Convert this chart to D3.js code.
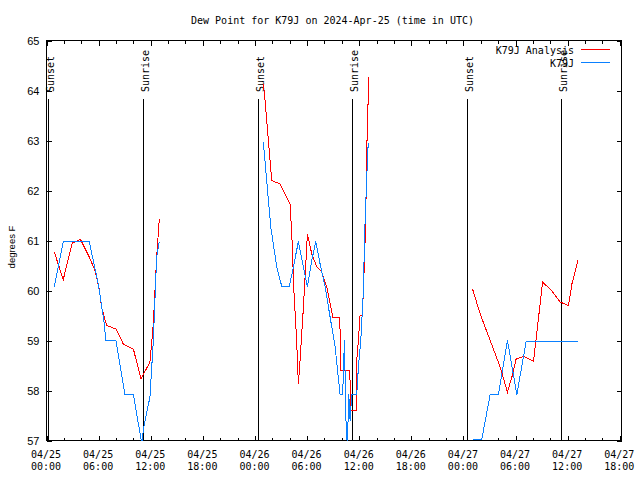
<!DOCTYPE html>
<html><head><meta charset="utf-8">
<script src="https://cdn.jsdelivr.net/npm/d3@7"></script>
<style>
body{margin:0;background:#fff;}
svg{display:block;}
</style></head>
<body>
<svg id="chart" width="640" height="480"></svg>
<script>
// ---- data (hours after 2024-04-25 00:00 UTC) ----
const titleText = "Dew Point for K79J on 2024-Apr-25 (time in UTC)";
const yLabelText = "degrees F";
const yTicks = [57, 58, 59, 60, 61, 62, 63, 64, 65];
const seriesNames = ["K79J Analysis", "K79J"];
const sunsetHours = [0.23, 24.41, 48.47];
const sunriseHours = [11.17, 35.23, 59.29];

// null = gap between days
const redHours = [0.89,1.93,2.96,3.92,4.92,5.58,6.08,6.34,6.92,8.0,8.84,10.0,10.88,11.91,12.3,12.68,12.99,
  null,
  24.97,25.16,25.55,25.93,26.89,27.47,28.04,28.24,28.5,28.8,29.0,29.19,29.58,30.04,30.54,31.12,31.69,32.27,32.96,33.78,33.84,34.93,34.99,35.64,35.72,35.91,36.1,36.35,36.49,36.68,36.8,36.87,37.03,37.06,
  null,
  49.05,49.93,51.08,52.23,53.07,53.58,54.07,54.92,56.07,56.53,57.11,58.19,59.14,60.1,60.49,61.18];
const redValues = [60.77,60.22,60.95,61.02,60.67,60.4,60.03,59.67,59.3,59.23,58.93,58.83,58.23,58.57,59.33,60.67,61.43,
  null,
  64.13,63.8,63.0,62.2,62.13,61.93,61.73,61.13,59.93,59.0,58.13,58.6,59.67,61.13,60.73,60.47,60.37,60.07,59.47,59.47,58.4,58.4,57.6,57.6,58.6,59.0,59.5,59.5,60.0,61.0,61.93,62.8,63.8,64.27,
  null,
  60.03,59.53,59.0,58.47,57.97,58.27,58.63,58.68,58.59,59.27,60.17,59.99,59.77,59.7,60.13,60.6];

const blueHours = [0.89,1.93,4.92,5.96,6.6,6.84,8.0,9.03,10.0,10.96,11.2,11.91,12.3,12.68,12.99,
  null,
  24.97,25.35,25.82,26.51,27.09,27.96,28.42,29.0,29.58,30.04,30.54,31.0,31.5,32.07,32.65,33.23,33.8,34.1,34.3,34.49,34.64,34.8,34.95,35.15,35.72,35.91,36.18,36.49,36.6,36.8,36.99,37.06,
  null,
  49.05,50.12,51.08,52.04,53.07,54.15,55.23,61.18];
const blueValues = [60.08,60.98,60.98,60.13,59.4,59.0,59.0,57.92,57.92,56.95,57.27,57.87,59.0,60.67,60.98,
  null,
  62.96,62.2,61.27,60.47,60.08,60.08,60.47,60.98,60.47,60.08,60.6,60.98,60.53,60.08,59.47,58.87,57.92,57.92,59.0,57.33,56.9,57.92,57.4,57.92,57.92,58.47,59.0,60.0,60.98,61.93,62.8,62.96,
  null,
  57.03,57.03,57.92,57.92,59.0,57.92,58.99,58.99];

// ---- drawing ----
const start = Date.UTC(2024, 3, 25, 0, 0);
const toDate = h => new Date(start + h * 3600e3);
const svg = d3.select("#chart");
const L = 46.5, R = 621.5, T = 40.5, B = 440.5;
const x = d3.scaleUtc().domain([toDate(0), toDate(66.2)]).range([L, R]);
const y = d3.scaleLinear().domain([57, 65]).range([B, T]);
const mono = "'DejaVu Sans Mono', monospace";
const sans = "'Liberation Sans', Arial, sans-serif";
const snap = v => Math.floor(v) + 0.5;

svg.append("rect").attr("width", 640).attr("height", 480).attr("fill", "#fff");

// title
svg.append("text").attr("x", 332.5).attr("y", 24).attr("text-anchor", "middle")
  .attr("font-family", mono).attr("font-size", 10).text(titleText);

// y label
svg.append("text").attr("transform", "translate(15,247) rotate(-90)")
  .attr("text-anchor", "middle").attr("font-family", sans).attr("font-size", 9.5).text(yLabelText);

// clip
svg.append("clipPath").attr("id", "clip").append("rect")
  .attr("x", L).attr("y", T).attr("width", R - L).attr("height", B - T + 0.5);

// axes
const majorT = d3.utcHour.every(6).range(toDate(0), toDate(66.3));
const minorT = d3.utcHour.every(2).range(toDate(0), toDate(66.3));
function styleAxis(g) {
  g.select(".domain").remove();
  g.selectAll(".tick line").attr("stroke", "#000").attr("shape-rendering", "crispEdges");
}
const gMinB = svg.append("g").attr("transform", `translate(0,${B})`)
  .call(d3.axisBottom(x).tickValues(minorT).tickSize(-3).tickFormat(""));
styleAxis(gMinB);
const gMinT = svg.append("g").attr("transform", `translate(0,${T})`)
  .call(d3.axisTop(x).tickValues(minorT).tickSize(-3).tickFormat(""));
styleAxis(gMinT);
const gMajT = svg.append("g").attr("transform", `translate(0,${T})`)
  .call(d3.axisTop(x).tickValues(majorT).tickSize(-5).tickFormat(""));
styleAxis(gMajT);
const gMajB = svg.append("g").attr("transform", `translate(0,${B})`)
  .call(d3.axisBottom(x).tickValues(majorT).tickSize(-5));
styleAxis(gMajB);
const fD = d3.utcFormat("%m/%d"), fH = d3.utcFormat("%H:%M");
gMajB.selectAll(".tick text").each(function(d) {
  const t = d3.select(this).text(null).attr("y", 0).attr("dy", null)
    .attr("font-family", mono).attr("font-size", 10).attr("fill", "#000");
  t.append("tspan").attr("x", -1).attr("y", 17.5).text(fD(d));
  t.append("tspan").attr("x", -1).attr("y", 29.5).text(fH(d));
});

const gL = svg.append("g").attr("transform", `translate(${L},0)`)
  .call(d3.axisLeft(y).tickValues(yTicks).tickSize(-5).tickPadding(7).tickFormat(d3.format("d")));
styleAxis(gL);
gL.selectAll(".tick text").attr("font-family", sans).attr("font-size", 11).attr("fill", "#000");
const gR = svg.append("g").attr("transform", `translate(${R},0)`)
  .call(d3.axisRight(y).tickValues(yTicks).tickSize(-5).tickFormat(""));
styleAxis(gR);

// frame
svg.append("rect").attr("x", L).attr("y", T).attr("width", R - L).attr("height", B - T)
  .attr("fill", "none").attr("stroke", "#000").attr("shape-rendering", "crispEdges");

// sunrise / sunset markers
function sunMark(h, label) {
  const px = snap(x(toDate(h)));
  svg.append("line").attr("x1", px).attr("x2", px).attr("y1", 99).attr("y2", B)
    .attr("stroke", "#000").attr("shape-rendering", "crispEdges");
  svg.append("text").attr("transform", `translate(${px + 5},92) rotate(-90)`)
    .attr("font-family", mono).attr("font-size", 10).text(label);
}
sunsetHours.forEach(h => sunMark(h, "Sunset"));
sunriseHours.forEach(h => sunMark(h, "Sunrise"));

// series
const line = d3.line().defined(d => d[0] !== null && d[1] !== null)
  .x(d => x(toDate(d[0]))).y(d => y(d[1]));
const plot = svg.append("g").attr("clip-path", "url(#clip)");
plot.append("path").datum(redHours.map((h, i) => [h, redValues[i]]))
  .attr("d", line).attr("fill", "none").attr("stroke", "#ff0000").attr("stroke-width", 1)
  .attr("shape-rendering", "crispEdges");
plot.append("path").datum(blueHours.map((h, i) => [h, blueValues[i]]))
  .attr("d", line).attr("fill", "none").attr("stroke", "#0a80ff").attr("stroke-width", 1)
  .attr("shape-rendering", "crispEdges");

// legend
const legColors = ["#ff0000", "#0a80ff"];
seriesNames.forEach((n, i) => {
  const ly = 49.5 + i * 13;
  svg.append("text").attr("x", 574).attr("y", ly + 4).attr("text-anchor", "end")
    .attr("font-family", mono).attr("font-size", 10).text(n);
  svg.append("line").attr("x1", 581).attr("x2", 610).attr("y1", ly).attr("y2", ly)
    .attr("stroke", legColors[i]).attr("shape-rendering", "crispEdges");
});
</script>
</body></html>
